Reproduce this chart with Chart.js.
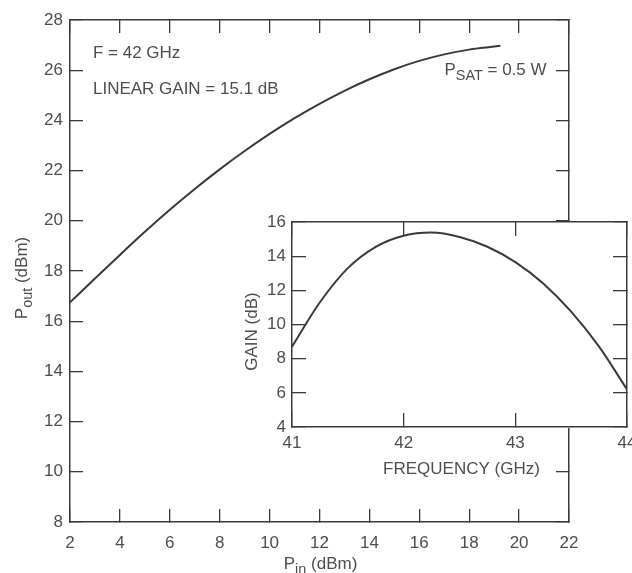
<!DOCTYPE html>
<html>
<head>
<meta charset="utf-8">
<script src="https://cdn.jsdelivr.net/npm/chart.js@4.4.1/dist/chart.umd.min.js"></script>
<style>
  html, body { margin: 0; padding: 0; background: #fff; }
  #wrap { position: relative; width: 632px; height: 573px; overflow: hidden; }
  #mainChart { position: absolute; left: 0; top: 0; }
  #insetChart { position: absolute; left: 230px; top: 200px; }
</style>
</head>
<body>
<div id="wrap">
  <canvas id="mainChart" width="632" height="573"></canvas>
  <canvas id="insetChart" width="402" height="290"></canvas>
</div>
<script>
// output power vs input power at 42 GHz
const pinDbm = [2, 3, 4, 5, 6, 7, 8, 9, 10, 11, 12, 13, 14, 15, 16, 17, 18, 19, 19.25];
const poutDbm = [16.75, 17.7, 18.64, 19.56, 20.44, 21.27, 22.05, 22.78, 23.46, 24.09, 24.66, 25.18, 25.64, 26.04, 26.37, 26.63, 26.82, 26.94, 26.97];

// small-signal gain vs frequency (inset)
const freqGHz = [41.0, 41.25, 41.5, 41.75, 42.0, 42.25, 42.5, 42.75, 43.0, 43.25, 43.5, 43.75, 44.0];
const gainDb = [8.7, 11.3, 13.3, 14.55, 15.2, 15.38, 15.12, 14.55, 13.65, 12.4, 10.75, 8.7, 6.2];

// text notes placed in data coordinates of the main plot
const noteX = [2.92, 2.92, 21.1];
const noteY = [26.69, 25.25, 26.0];
const noteText = [
  [['F = 42 GHz']],
  [['LINEAR GAIN = 15.1 dB']],
  [['P'], ['SAT', true], [' = 0.5 W']]
];
const noteAlign = ['left', 'left', 'right'];

const INK = '#3a3a3a';
const TEXT = '#4e4e4e';
const FONT = "'Liberation Sans', Arial, sans-serif";
const SIZE = 17;

function toPoints(xs, ys) {
  return xs.map((x, i) => ({ x: x, y: ys[i] }));
}

// force a scale box to an exact size and drop its label overflow padding
function fixedBox(size) {
  return function (scale) {
    if (scale.isHorizontal()) scale.height = size;
    else scale.width = size;
    scale.paddingLeft = scale.paddingRight = scale.paddingTop = scale.paddingBottom = 0;
  };
}

// ticks point inward (negative tick length), frame drawn by the borders
function axis(position, min, max, step, labels, tick, pad, size) {
  return {
    type: 'linear',
    position: position,
    min: min,
    max: max,
    ticks: {
      stepSize: step,
      display: labels,
      color: TEXT,
      font: { family: FONT, size: SIZE },
      padding: pad,
      maxRotation: 0,
      autoSkip: false
    },
    grid: {
      drawOnChartArea: false,
      drawTicks: true,
      tickLength: -tick,
      color: INK,
      lineWidth: 1.3
    },
    border: { display: true, color: INK, width: 1.5 },
    afterFit: fixedBox(size)
  };
}

function drawParts(ctx, parts, x, y, align, angle) {
  ctx.save();
  ctx.translate(x, y);
  if (angle) ctx.rotate(angle);
  ctx.fillStyle = TEXT;
  ctx.textBaseline = 'middle';
  ctx.textAlign = 'left';
  const sub = SIZE * 0.85;
  const widths = parts.map(p => {
    ctx.font = (p[1] ? sub : SIZE) + 'px ' + FONT;
    return ctx.measureText(p[0]).width;
  });
  const total = widths.reduce((a, b) => a + b, 0);
  let cx = align === 'left' ? 0 : align === 'right' ? -total : -total / 2;
  parts.forEach((p, i) => {
    ctx.font = (p[1] ? sub : SIZE) + 'px ' + FONT;
    ctx.fillText(p[0], cx, p[1] ? SIZE * 0.35 : 0);
    cx += widths[i];
  });
  ctx.restore();
}

const mainLabels = {
  id: 'mainLabels',
  afterDraw(chart) {
    const { ctx, chartArea: a, scales } = chart;
    noteText.forEach((parts, i) => {
      drawParts(ctx, parts, scales.x.getPixelForValue(noteX[i]), scales.y.getPixelForValue(noteY[i]), noteAlign[i]);
    });
    drawParts(ctx, [['P'], ['in', true], [' (dBm)']], (a.left + a.right) / 2 + 1, scales.x.bottom - 9, 'center');
    drawParts(ctx, [['P'], ['out', true], [' (dBm)']], scales.y.left + 22, (a.top + a.bottom) / 2 + 7, 'center', -Math.PI / 2);
  }
};

const insetLabels = {
  id: 'insetLabels',
  beforeDraw(chart) {
    const { ctx, chartArea: a } = chart;
    ctx.save();
    ctx.fillStyle = '#fff';
    ctx.fillRect(a.left - 1, a.top - 1, a.right - a.left + 2, a.bottom - a.top + 2);
    ctx.restore();
  },
  afterDraw(chart) {
    const { ctx, chartArea: a, scales } = chart;
    drawParts(ctx, [['FREQUENCY (GHz)']], (a.left + a.right) / 2 + 2, a.bottom + 42, 'center');
    drawParts(ctx, [['GAIN (dB)']], scales.y.left + 22, (a.top + a.bottom) / 2 + 7, 'center', -Math.PI / 2);
  }
};

const lineStyle = {
  borderColor: INK,
  borderWidth: 2,
  pointRadius: 0,
  fill: false,
  cubicInterpolationMode: 'monotone'
};

new Chart(document.getElementById('mainChart'), {
  type: 'line',
  data: {
    datasets: [Object.assign({ data: toPoints(pinDbm, poutDbm), xAxisID: 'x', yAxisID: 'y' }, lineStyle)]
  },
  options: {
    responsive: false,
    animation: false,
    layout: { padding: { left: 0, top: 20, right: 63, bottom: 0 } },
    plugins: { legend: { display: false }, tooltip: { enabled: false } },
    scales: {
      x: axis('bottom', 2, 22, 2, true, 13, 24, 51),
      x2: axis('top', 2, 22, 2, false, 13, 0, 0),
      y: axis('left', 8, 28, 2, true, 13, 20, 70),
      y2: axis('right', 8, 28, 2, false, 13, 0, 0)
    }
  },
  plugins: [mainLabels]
});

new Chart(document.getElementById('insetChart'), {
  type: 'line',
  data: {
    datasets: [Object.assign({ data: toPoints(freqGHz, gainDb), xAxisID: 'x', yAxisID: 'y' }, lineStyle)]
  },
  options: {
    responsive: false,
    animation: false,
    layout: { padding: { left: 0, top: 22, right: 5, bottom: 0 } },
    plugins: { legend: { display: false }, tooltip: { enabled: false } },
    scales: {
      x: axis('bottom', 41, 44, 1, true, 14, 20, 63),
      x2: axis('top', 41, 44, 1, false, 14, 0, 0),
      y: axis('left', 4, 16, 2, true, 14, 20, 62),
      y2: axis('right', 4, 16, 2, false, 14, 0, 0)
    }
  },
  plugins: [insetLabels]
});
</script>
</body>
</html>
